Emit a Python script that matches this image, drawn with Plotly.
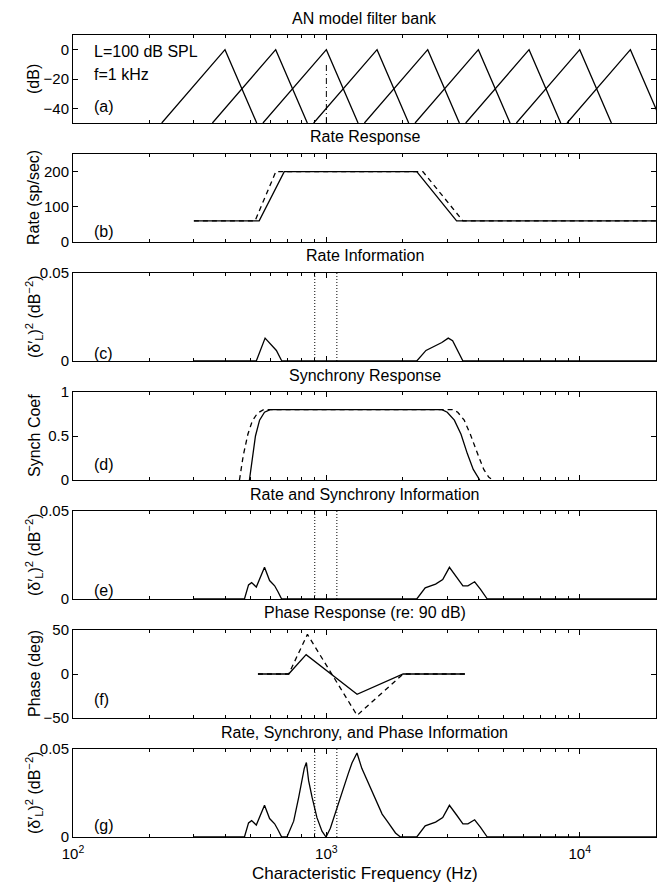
import plotly.graph_objects as go
from plotly.subplots import make_subplots

# ---------------- data ----------------
# (a) AN model filter bank: triangular filter shapes
filt_peak_hz = [398, 631, 1000, 1585, 2512, 3981, 6310, 10000, 15849]
filt_low_hz = [224, 355, 562, 891, 1413, 2239, 3548, 5623, 8913]
filt_high_hz = [531, 841, 1334, 2113, 3350, 5309, 8414, 13335, 21135]
filt_peak_db = 0
filt_floor_db = -50
tone_hz = [1000, 1000]
tone_db = [-50, -10]

# (b) rate response
rate_solid_hz = [300, 543, 682, 2274, 3266, 20000]
rate_solid = [60, 60, 200, 200, 60, 60]
rate_dash_hz = [300, 523, 632, 2404, 3459, 20000]
rate_dash = [60, 60, 200, 200, 60, 60]

# (c) rate information
rinfo_hz = [300, 529, 573, 635, 667, 2274, 2473, 2698, 2856, 3027, 3150, 3459, 20000]
rinfo = [0, 0, 0.013, 0.006, 0, 0, 0.006, 0.0088, 0.0105, 0.013, 0.0115, 0, 0]

# (d) synchrony response
sync_solid_hz = [497, 510, 525, 545, 570, 600, 2858, 3000, 3200, 3400, 3600, 3800, 3950, 4030]
sync_solid = [0, 0.25, 0.5, 0.68, 0.77, 0.8, 0.8, 0.77, 0.68, 0.52, 0.3, 0.12, 0.03, 0]
sync_dash_hz = [454, 470, 490, 510, 535, 565, 3148, 3300, 3500, 3700, 3950, 4180, 4380, 4550]
sync_dash = [0, 0.28, 0.52, 0.67, 0.76, 0.8, 0.8, 0.77, 0.68, 0.52, 0.3, 0.12, 0.03, 0]

# (e) rate and synchrony information
rsinfo_hz = [300, 475, 493, 507, 529, 570, 597, 625, 645, 666,
             2274, 2455, 2698, 2879, 3060, 3266, 3459, 3620, 3848, 4060, 4315, 20000]
rsinfo = [0, 0, 0.008, 0.0093, 0.0068, 0.018, 0.0105, 0.0075, 0.004, 0,
          0, 0.0063, 0.0085, 0.011, 0.018, 0.0125, 0.0075, 0.0075, 0.0098, 0.0055, 0, 0]

# (f) phase response (re: 90 dB)
phase_solid_hz = [537, 710, 832, 1322, 2009, 3524]
phase_solid = [0, 0, 22, -23, 0, 0]
phase_dash_hz = [537, 710, 842, 1322, 2009, 3524]
phase_dash = [0, 0, 45, -47, 0, 0]

# (g) rate, synchrony and phase information
allinfo_hz = [300, 475, 493, 507, 529, 570, 597, 625, 645, 666,
              699, 743, 778, 802, 818, 834, 851, 878, 918, 961, 997,
              1037, 1069, 1120, 1171, 1220, 1262, 1321, 1380, 1448, 1520, 1585, 1660, 1738, 1810, 1874, 1960,
              2274, 2455, 2698, 2879, 3060, 3266, 3459, 3620, 3848, 4060, 4315, 20000]
allinfo = [0, 0, 0.008, 0.0093, 0.0068, 0.018, 0.0105, 0.0075, 0.004, 0,
           0, 0.009, 0.0226, 0.034, 0.039, 0.0423, 0.032, 0.0226, 0.011, 0.0033, 0,
           0.005, 0.011, 0.019, 0.028, 0.036, 0.042, 0.0477, 0.039, 0.032, 0.025, 0.0187, 0.013, 0.009, 0.005, 0.0023, 0,
           0, 0.0063, 0.0085, 0.011, 0.018, 0.0125, 0.0075, 0.0075, 0.0098, 0.0055, 0, 0]

# just-noticeable band around the 1 kHz tone
band_hz = [900, 1100]
info_max = 0.05

panel_titles = ["AN model filter bank", "Rate Response", "Rate Information", "Synchrony Response",
                "Rate and Synchrony Information", "Phase Response (re: 90 dB)",
                "Rate, Synchrony, and Phase Information"]
info_label = "(δ′<sub>L</sub>)<sup>2</sup> (dB<sup>−2</sup>)"
y_titles = ["(dB)", "Rate (sp/sec)", info_label, "Synch Coef", info_label, "Phase (deg)", info_label]
panel_tags = ["(a)", "(b)", "(c)", "(d)", "(e)", "(f)", "(g)"]
tag_y = [-39, 29, 0.0044, 0.18, 0.005, -29, 0.0068]
y_ranges = [[-50, 10], [0, 250], [0, 0.05], [0, 1], [0, 0.05], [-50, 50], [0, 0.05]]
y_tickvals = [[-40, -20, 0], [0, 100, 200], [0, 0.05], [0, 0.5, 1], [0, 0.05], [-50, 0, 50], [0, 0.05]]
y_ticktext = [["−40", "−20", "0"], ["0", "100", "200"], ["0", "0.05"], ["0", "0.5", "1"],
              ["0", "0.05"], ["−50", "0", "50"], ["0", "0.05"]]
x_tickvals = [100, 1000, 10000]
x_ticktext = ["10<sup>2</sup>", "10<sup>3</sup>", "10<sup>4</sup>"]
x_range_hz = [100, 20000]

# ---------------- figure ----------------
W, H = 659, 884
ML, MR, MT, MB = 73, 3, 35, 47
plot_h = H - MT - MB
gap = 31
fig = make_subplots(rows=7, cols=1, vertical_spacing=gap / plot_h)

FONT = "Liberation Sans, Arial, Helvetica, sans-serif"
black = "black"
solid = dict(color=black, width=1.3)
dashed = dict(color=black, width=1.3, dash="5px,4px")
dotted = dict(color=black, width=1, dash="1px,2px")

# (a) triangles
tx, ty = [], []
for lo, pk, hi in zip(filt_low_hz, filt_peak_hz, filt_high_hz):
    tx += [lo, pk, hi, None]
    ty += [filt_floor_db, filt_peak_db, filt_floor_db, None]
fig.add_trace(go.Scatter(x=tx, y=ty, mode="lines", line=solid), row=1, col=1)
fig.add_trace(go.Scatter(x=tone_hz, y=tone_db, mode="lines",
                         line=dict(color=black, width=1, dash="6px,3px,1px,3px")), row=1, col=1)

# (b)
fig.add_trace(go.Scatter(x=rate_dash_hz, y=rate_dash, mode="lines", line=dashed), row=2, col=1)
fig.add_trace(go.Scatter(x=rate_solid_hz, y=rate_solid, mode="lines", line=solid), row=2, col=1)
# (c)
fig.add_trace(go.Scatter(x=rinfo_hz, y=rinfo, mode="lines", line=solid), row=3, col=1)
# (d)
fig.add_trace(go.Scatter(x=sync_dash_hz, y=sync_dash, mode="lines", line=dashed), row=4, col=1)
fig.add_trace(go.Scatter(x=sync_solid_hz, y=sync_solid, mode="lines", line=solid), row=4, col=1)
# (e)
fig.add_trace(go.Scatter(x=rsinfo_hz, y=rsinfo, mode="lines", line=solid), row=5, col=1)
# (f)
fig.add_trace(go.Scatter(x=phase_dash_hz, y=phase_dash, mode="lines", line=dashed), row=6, col=1)
fig.add_trace(go.Scatter(x=phase_solid_hz, y=phase_solid, mode="lines", line=solid), row=6, col=1)
# (g)
fig.add_trace(go.Scatter(x=allinfo_hz, y=allinfo, mode="lines", line=solid), row=7, col=1)

# dotted band lines in info panels
for r in (3, 5, 7):
    for b in band_hz:
        fig.add_trace(go.Scatter(x=[b, b], y=[0, info_max], mode="lines", line=dotted), row=r, col=1)

for i in range(7):
    r = i + 1
    fig.update_xaxes(type="log", range=[2, 4.30103], showline=True, linecolor=black, linewidth=1,
                     mirror="allticks", ticks="inside", ticklen=5, tickcolor=black,
                     tickvals=x_tickvals, ticktext=x_ticktext, showticklabels=(r == 7),
                     showgrid=False, zeroline=False, ticklabelstandoff=3,
                     minor=dict(ticks="inside", ticklen=3, dtick="D1", tickcolor=black, showgrid=False),
                     tickfont=dict(family=FONT, size=15, color=black), row=r, col=1)
    fig.update_yaxes(range=y_ranges[i], showline=True, linecolor=black, linewidth=1,
                     mirror="allticks", ticks="inside", ticklen=5, tickcolor=black,
                     tickvals=y_tickvals[i], ticktext=y_ticktext[i],
                     showgrid=False, zeroline=False,
                     tickfont=dict(family=FONT, size=15, color=black), row=r, col=1)

annots = []
for i in range(7):
    ya = fig.layout["yaxis" if i == 0 else f"yaxis{i+1}"]
    d0, d1 = ya.domain
    xref = "x" if i == 0 else f"x{i+1}"
    yref = "y" if i == 0 else f"y{i+1}"
    annots.append(dict(text=panel_titles[i], xref="paper", yref="paper", x=0.5, y=d1,
                       yshift=17, xanchor="center", yanchor="middle", showarrow=False,
                       font=dict(family=FONT, size=16, color=black)))
    annots.append(dict(text=y_titles[i], xref="paper", yref="paper", x=(34 - ML) / (W - ML - MR),
                       y=(d0 + d1) / 2, textangle=-90, xanchor="center", yanchor="middle",
                       showarrow=False, font=dict(family=FONT, size=16, color=black)))
    annots.append(dict(text=panel_tags[i], xref=xref, yref=yref, x=2.076, y=tag_y[i],
                       xanchor="left", yanchor="middle", showarrow=False,
                       font=dict(family=FONT, size=16, color=black)))
annots.append(dict(text="L=100 dB SPL", xref="x", yref="y", x=2.076, y=-1, xanchor="left",
                   yanchor="middle", showarrow=False, font=dict(family=FONT, size=16, color=black)))
annots.append(dict(text="f=1 kHz", xref="x", yref="y", x=2.076, y=-17, xanchor="left",
                   yanchor="middle", showarrow=False, font=dict(family=FONT, size=16, color=black)))
annots.append(dict(text="Characteristic Frequency (Hz)", xref="paper", yref="paper", x=0.5, y=0,
                   yshift=-36, xanchor="center", yanchor="middle", showarrow=False,
                   font=dict(family=FONT, size=17, color=black)))

fig.update_layout(width=W, height=H, margin=dict(l=ML, r=MR, t=MT, b=MB, pad=0),
                  paper_bgcolor="white", plot_bgcolor="white", showlegend=False,
                  annotations=annots, font=dict(family=FONT, color=black))

fig.write_html("out.html")
